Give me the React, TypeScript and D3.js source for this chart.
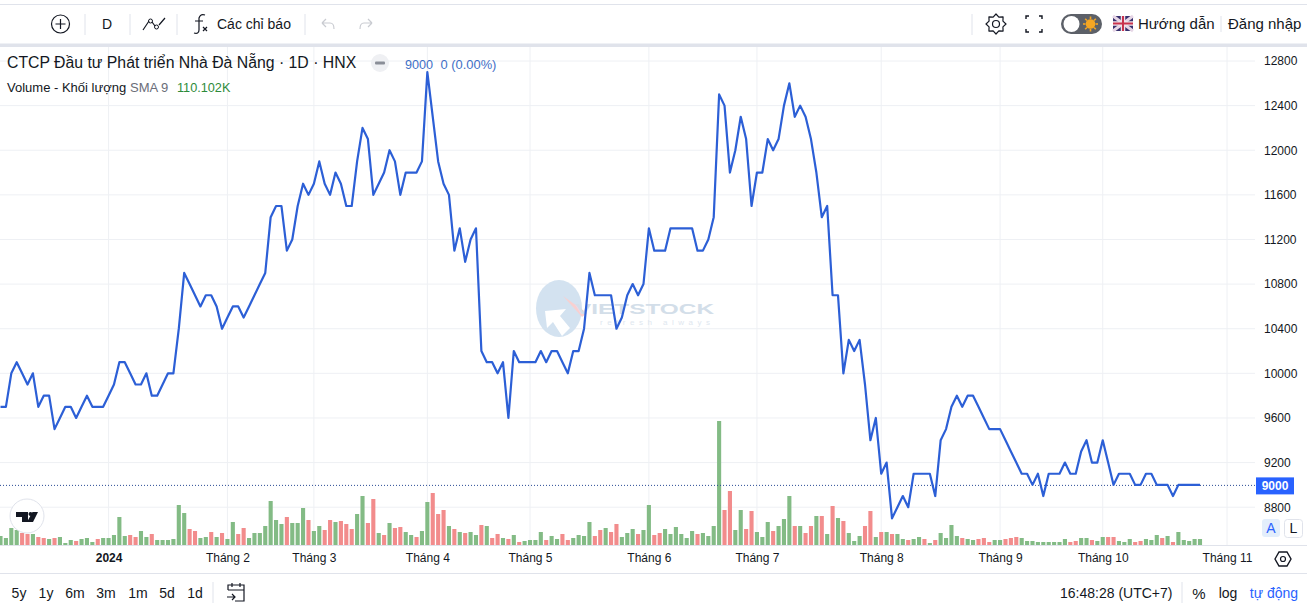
import { useEffect, useRef } from "react";
import * as d3 from "d3";

// closing price per session
const prices = [
  9700, 9700, 10000, 10100, 10000, 9900, 10000, 9700, 9800, 9800,
  9500, 9600, 9700, 9700, 9600, 9700, 9800, 9700, 9700, 9700,
  9800, 9900, 10100, 10100, 10000, 9900, 9900, 10000, 9800, 9800,
  9900, 10000, 10000, 10400, 10900, 10800, 10700, 10600, 10700, 10700,
  10600, 10400, 10500, 10600, 10600, 10500, 10600, 10700, 10800, 10900,
  11400, 11500, 11500, 11100, 11200, 11500, 11700, 11600, 11700, 11900,
  11700, 11600, 11800, 11700, 11500, 11500, 11900, 12200, 12100, 11600,
  11700, 11800, 12000, 11900, 11600, 11800, 11800, 11800, 11900, 12700,
  12300, 11900, 11700, 11600, 11100, 11300, 11000, 11200, 11300, 10200,
  10100, 10100, 10000, 10100, 9600, 10200, 10100, 10100, 10100, 10100,
  10200, 10100, 10200, 10200, 10100, 10000, 10200, 10200, 10400, 10900,
  10700, 10700, 10700, 10700, 10400, 10500, 10700, 10800, 10700, 10800,
  11300, 11100, 11100, 11100, 11300, 11300, 11300, 11300, 11300, 11100,
  11100, 11200, 11400, 12500, 12400, 11800, 12000, 12300, 12100, 11500,
  11800, 11800, 12100, 12000, 12100, 12400, 12600, 12300, 12400, 12300,
  12100, 11800, 11400, 11500, 10700, 10700, 10000, 10300, 10200, 10300,
  9900, 9400, 9600, 9100, 9200, 8700, 8800, 8900, 8800, 9100,
  9100, 9100, 9100, 8900, 9400, 9500, 9700, 9800, 9700, 9800,
  9800, 9700, 9600, 9500, 9500, 9500, 9400, 9300, 9200, 9100,
  9100, 9000, 9100, 8900, 9100, 9100, 9100, 9200, 9100, 9100,
  9300, 9400, 9200, 9200, 9400, 9200, 9000, 9100, 9100, 9100,
  9000, 9000, 9100, 9100, 9000, 9000, 9000, 8900, 9000, 9000,
  9000, 9000, 9000,
];

// volume in thousands of shares
const volumes = [
  135, 105, 255, 225, 180, 165, 165, 120, 105, 90,
  105, 120, 30, 75, 60, 90, 105, 45, 90, 105,
  105, 150, 420, 135, 150, 120, 210, 120, 165, 75,
  75, 75, 90, 600, 480, 240, 210, 105, 120, 195,
  120, 180, 90, 345, 165, 255, 105, 180, 180, 285,
  660, 375, 315, 420, 330, 330, 555, 375, 210, 285,
  225, 375, 345, 360, 315, 240, 465, 735, 330, 690,
  180, 150, 330, 255, 270, 195, 150, 120, 210, 645,
  780, 465, 525, 285, 240, 195, 180, 195, 150, 300,
  285, 105, 165, 105, 90, 150, 45, 60, 75, 75,
  195, 75, 135, 90, 165, 75, 105, 150, 135, 345,
  135, 225, 255, 195, 315, 120, 180, 240, 165, 225,
  600, 150, 180, 240, 165, 270, 165, 105, 210, 165,
  180, 135, 285, 1860, 525, 810, 225, 525, 240, 510,
  195, 120, 345, 210, 285, 390, 735, 285, 285, 180,
  285, 435, 435, 165, 585, 405, 360, 180, 60, 135,
  285, 510, 120, 195, 195, 165, 165, 90, 75, 90,
  120, 90, 30, 75, 180, 105, 300, 135, 105, 90,
  75, 90, 105, 45, 75, 75, 90, 105, 120, 105,
  60, 60, 45, 45, 45, 45, 45, 90, 45, 60,
  105, 105, 75, 60, 120, 120, 120, 60, 45, 90,
  45, 60, 90, 75, 150, 105, 135, 45, 195, 75,
  60, 90, 90,
];

// 1 = up session (green bar), 0 = down session (red bar)
const volumeUp = [
  1, 1, 1, 1, 0, 0, 1, 0, 0, 1,
  0, 1, 1, 1, 0, 1, 1, 1, 0, 1,
  1, 1, 1, 1, 0, 0, 1, 1, 0, 1,
  1, 1, 1, 1, 1, 0, 0, 1, 1, 0,
  1, 0, 1, 1, 0, 0, 1, 1, 1, 1,
  1, 1, 1, 0, 1, 1, 1, 0, 1, 1,
  0, 0, 1, 0, 0, 0, 1, 1, 0, 0,
  1, 0, 1, 0, 0, 1, 1, 0, 1, 1,
  0, 0, 0, 1, 0, 1, 0, 1, 1, 0,
  1, 0, 0, 1, 0, 1, 0, 1, 1, 1,
  1, 0, 1, 1, 0, 0, 1, 1, 1, 1,
  0, 0, 1, 0, 0, 1, 1, 1, 0, 1,
  1, 0, 0, 1, 1, 1, 1, 1, 1, 0,
  1, 1, 1, 1, 0, 0, 1, 1, 0, 0,
  1, 1, 1, 0, 1, 1, 1, 0, 1, 0,
  0, 1, 0, 1, 0, 1, 0, 1, 1, 1,
  0, 0, 1, 0, 1, 0, 1, 1, 0, 1,
  1, 0, 1, 0, 1, 1, 1, 1, 0, 1,
  1, 0, 0, 0, 1, 1, 0, 0, 0, 1,
  1, 1, 1, 1, 1, 1, 1, 1, 0, 0,
  1, 1, 0, 1, 1, 0, 0, 1, 1, 1,
  0, 0, 1, 1, 1, 0, 1, 0, 1, 1,
  1, 1, 1,
];

const gridPrices = [8800, 9200, 9600, 10000, 10400, 10800, 11200, 11600, 12000, 12400, 12800];
const monthIndexes = [20, 42, 58, 79, 98, 120, 140, 163, 185, 204, 227];
const monthLabels = ["2024", "Tháng 2", "Tháng 3", "Tháng 4", "Tháng 5", "Tháng 6", "Tháng 7", "Tháng 8", "Tháng 9", "Tháng 10", "Tháng 11"];
const rangeLabels = ["5y", "1y", "6m", "3m", "1m", "5d", "1d"];
const rangeCenters = [19, 46, 75, 106, 138, 167, 195];
const lastPrice = 9000;

const WIDTH = 1307;
const HEIGHT = 608;
const PANE_RIGHT = 1255;
const PANE_TOP = 47;
const PANE_BOTTOM = 545;
const FONT = "'Liberation Sans', Arial, sans-serif";
const INK = "#131722";
const GRID = "#eef0f4";
const BORDER = "#e0e3eb";
const BLUE = "#2962ff";

export default function App() {
  const svgRef = useRef<SVGSVGElement>(null);

  useEffect(() => {
    if (!svgRef.current) return;
    const svg = d3.select(svgRef.current);
    svg.selectAll("*").remove();
    svg.style("font-family", FONT);

    const x = d3.scaleLinear().domain([0, prices.length - 1]).range([0.5, 1200]);
    const y = d3.scaleLinear().domain([8800, 12800]).range([507.2, 61]);
    const yVol = d3.scaleLinear().domain([0, d3.max(volumes) as number]).range([PANE_BOTTOM, 421]);
    const barW = (x(1) - x(0)) * 0.76;

    const text = (px: number, py: number, s: string, size = 14, fill = INK, anchor = "start") =>
      svg.append("text").attr("x", px).attr("y", py).attr("font-size", size)
        .attr("fill", fill).attr("text-anchor", anchor).text(s);
    const sep = (px: number, y1: number, y2: number) =>
      svg.append("line").attr("x1", px).attr("x2", px).attr("y1", y1).attr("y2", y2)
        .attr("stroke", BORDER);
    const icon = (px: number, py: number, d: string, stroke = INK) =>
      svg.append("path").attr("transform", `translate(${px},${py})`).attr("d", d)
        .attr("fill", "none").attr("stroke", stroke).attr("stroke-width", 1.2);

    // Grid lines
    svg.append("g").selectAll("line").data(gridPrices).enter().append("line")
      .attr("x1", 0).attr("x2", PANE_RIGHT)
      .attr("y1", (d) => y(d)).attr("y2", (d) => y(d))
      .attr("stroke", GRID);
    svg.append("g").selectAll("line").data(monthIndexes).enter().append("line")
      .attr("x1", (d) => x(d)).attr("x2", (d) => x(d))
      .attr("y1", PANE_TOP).attr("y2", PANE_BOTTOM)
      .attr("stroke", GRID);

    // Watermark
    const mark = svg.append("g");
    mark.append("ellipse").attr("cx", 559).attr("cy", 308.5).attr("rx", 23).attr("ry", 28.5).attr("fill", "#d3e2f0");
    mark.append("path").attr("d", "M545 311 L566 309 L560 316 L570 328 L562 336 L553 322 L547 328 Z").attr("fill", "#fff");
    mark.append("path").attr("d", "M563 296 L587 313 L582 317 Z").attr("fill", "#f8d0d0");
    mark.append("text").attr("x", 575).attr("y", 313.5).attr("font-size", 15).attr("font-weight", 700)
      .attr("textLength", 139).attr("lengthAdjust", "spacingAndGlyphs")
      .attr("fill", "#d3dee9").text("VIETSTOCK");
    mark.append("text").attr("x", 600).attr("y", 324.5).attr("font-size", 8)
      .attr("textLength", 110).attr("lengthAdjust", "spacing")
      .attr("fill", "#e0e7ef").text("refresh always");

    // Volume bars
    svg.append("g").selectAll("rect").data(volumes).enter().append("rect")
      .attr("x", (_, i) => x(i) - barW / 2)
      .attr("y", (d) => yVol(d))
      .attr("width", barW)
      .attr("height", (d) => PANE_BOTTOM - yVol(d))
      .attr("fill", (_, i) => (volumeUp[i] ? "#83bb85" : "#f28c8c"));

    // Last price dotted line
    svg.append("line")
      .attr("x1", 0).attr("x2", PANE_RIGHT)
      .attr("y1", y(lastPrice) + 0.5).attr("y2", y(lastPrice) + 0.5)
      .attr("stroke", "#2a4a94").attr("stroke-dasharray", "1,2");

    // Price line
    const line = d3.line<number>().x((_, i) => x(i)).y((d) => y(d));
    svg.append("path").datum(prices)
      .attr("fill", "none").attr("stroke", "#2c5fd6").attr("stroke-width", 2.2)
      .attr("stroke-linejoin", "round")
      .attr("d", line);

    // Price axis
    svg.append("g")
      .attr("transform", `translate(${PANE_RIGHT},0)`)
      .call(d3.axisRight(y).tickValues(gridPrices).tickSize(0).tickPadding(9).tickFormat((d) => String(d)))
      .call((g) => g.select(".domain").remove())
      .call((g) => g.selectAll(".tick text").attr("fill", INK).attr("font-size", 12).attr("font-family", FONT));

    svg.append("rect").attr("x", 1256).attr("y", y(lastPrice) - 7.5).attr("width", 38).attr("height", 17).attr("fill", BLUE);
    text(1275, y(lastPrice) + 5.5, String(lastPrice), 12, "#fff", "middle").attr("font-weight", 700);

    // Time axis
    svg.append("line").attr("x1", 0).attr("x2", WIDTH).attr("y1", PANE_BOTTOM + 0.5).attr("y2", PANE_BOTTOM + 0.5).attr("stroke", BORDER);
    svg.append("g")
      .attr("transform", `translate(0,${PANE_BOTTOM + 3})`)
      .call(d3.axisBottom(x).tickValues(monthIndexes).tickSize(0).tickPadding(5)
        .tickFormat((_, i) => monthLabels[i]))
      .call((g) => g.select(".domain").remove())
      .call((g) => g.selectAll(".tick text").attr("fill", INK).attr("font-size", 12).attr("font-family", FONT)
        .attr("font-weight", (_, i) => (i === 0 ? 700 : 400)));

    // Top toolbar
    svg.append("line").attr("x1", 0).attr("x2", WIDTH).attr("y1", 4.5).attr("y2", 4.5).attr("stroke", BORDER);
    svg.append("rect").attr("x", 0).attr("y", 43.5).attr("width", WIDTH).attr("height", 3.5).attr("fill", BORDER);
    [85, 130, 177, 305, 972].forEach((p) => sep(p, 14, 35));
    svg.append("circle").attr("cx", 60.5).attr("cy", 24).attr("r", 9).attr("fill", "none").attr("stroke", INK).attr("stroke-width", 1.2);
    icon(60.5, 24, "M-5 0H5M0 -5V5");
    text(107, 29, "D", 14, INK, "middle");
    icon(154, 24, "M-11 6L-5 -3M-2 -2L1 2M5 1L11 -6");
    svg.append("circle").attr("cx", 150.5).attr("cy", 21).attr("r", 2).attr("fill", "none").attr("stroke", INK);
    svg.append("circle").attr("cx", 156.5).attr("cy", 27).attr("r", 2).attr("fill", "none").attr("stroke", INK);
    icon(200, 24, "M5 -9C2 -10 0 -9 -1 -6V6C-1 9 -3 10 -6 9M-5 -3H3");
    icon(205, 29, "M-2 -2L2 2M2 -2L-2 2");
    text(217, 29, "Các chỉ báo");
    icon(328, 24, "M-6 -1H2C5 -1 6 1 6 5M-6 -1L-2 -5M-6 -1L-2 3", "#c9cbd1");
    icon(366, 24, "M6 -1H-2C-5 -1 -6 1 -6 5M6 -1L2 -5M6 -1L2 3", "#c9cbd1");

    // Gear, fullscreen, theme switch, flag
    const gear = d3.range(16).map((i) => {
      const a = (i * Math.PI) / 8;
      const r = i % 2 ? 7.5 : 10;
      return [Math.sin(a) * r, -Math.cos(a) * r] as [number, number];
    });
    svg.append("path").attr("transform", "translate(996,24)").attr("d", d3.line().curve(d3.curveLinearClosed)(gear))
      .attr("fill", "none").attr("stroke", INK).attr("stroke-width", 1.2).attr("stroke-linejoin", "round");
    svg.append("circle").attr("cx", 996).attr("cy", 24).attr("r", 3.5).attr("fill", "none").attr("stroke", INK).attr("stroke-width", 1.2);
    icon(1034, 24, "M-8 -5V-8H-5M5 -8H8V-5M8 5V8H5M-5 8H-8V5", INK).attr("stroke-width", 1.4);
    svg.append("rect").attr("x", 1061).attr("y", 14).attr("width", 41).attr("height", 20).attr("rx", 10).attr("fill", "#5c6068");
    svg.append("circle").attr("cx", 1071.5).attr("cy", 24).attr("r", 8).attr("fill", "#fff");
    svg.append("circle").attr("cx", 1090.5).attr("cy", 24).attr("r", 4.8).attr("fill", "#f5a623");
    svg.append("g").selectAll("line").data(d3.range(8)).enter().append("line")
      .attr("x1", (d) => 1090.5 + Math.cos((d * Math.PI) / 4) * 5)
      .attr("y1", (d) => 24 + Math.sin((d * Math.PI) / 4) * 5)
      .attr("x2", (d) => 1090.5 + Math.cos((d * Math.PI) / 4) * 7.5)
      .attr("y2", (d) => 24 + Math.sin((d * Math.PI) / 4) * 7.5)
      .attr("stroke", "#f5a623").attr("stroke-width", 1.6);
    const flag = svg.append("g");
    flag.append("rect").attr("x", 1113).attr("y", 16).attr("width", 20).attr("height", 15).attr("rx", 1).attr("fill", "#38306e");
    flag.append("path").attr("d", "M1113 16L1133 31M1133 16L1113 31").attr("stroke", "#e6d6e6").attr("stroke-width", 3);
    flag.append("path").attr("d", "M1123 16V31M1113 23.5H1133").attr("stroke", "#f0e4ea").attr("stroke-width", 4.5);
    flag.append("path").attr("d", "M1123 16V31M1113 23.5H1133").attr("stroke", "#c8324e").attr("stroke-width", 2);
    text(1138, 29, "Hướng dẫn", 15);
    sep(1221, 16, 32);
    text(1228, 29, "Đăng nhập", 15);

    // Legend
    text(7, 68, "CTCP Đầu tư Phát triển Nhà Đà Nẵng · 1D · HNX", 15.8);
    svg.append("circle").attr("cx", 380).attr("cy", 63).attr("r", 9).attr("fill", "#eff0f3");
    svg.append("rect").attr("x", 375).attr("y", 61.5).attr("width", 10).attr("height", 3).attr("rx", 1).attr("fill", "#8a8e97");
    text(405, 69, "9000", 12.6, "#3f6fc6");
    text(440.5, 69, "0 (0.00%)", 12.9, "#3f6fc6");
    text(7, 92, "Volume - Khối lượng", 13);
    text(130, 92, "SMA 9", 13, "#6a6d78");
    text(177, 92, "110.102K", 12.7, "#2e8b3a");

    // TradingView badge
    svg.append("circle").attr("cx", 27).attr("cy", 516).attr("r", 17).attr("fill", "#fff").attr("stroke", BORDER);
    svg.append("path").attr("d", "M16 512H28V522H22V517H16ZM32.5 512H38L33 522H27Z").attr("fill", "#131722");
    svg.append("circle").attr("cx", 30.5).attr("cy", 514).attr("r", 2).attr("fill", "#131722");

    // Auto / log buttons
    svg.append("rect").attr("x", 1262).attr("y", 519).attr("width", 18).attr("height", 18).attr("rx", 3).attr("fill", "#e3eefb");
    text(1271, 533, "A", 14, BLUE, "middle");
    svg.append("rect").attr("x", 1284.5).attr("y", 519.5).attr("width", 18).attr("height", 18).attr("rx", 3).attr("fill", "#fff").attr("stroke", BORDER);
    text(1293.5, 533, "L", 14, INK, "middle");
    icon(1283, 559, "M-8 0L-4 -7H4L8 0L4 7H-4Z").attr("stroke-width", 1.4);
    svg.append("circle").attr("cx", 1283).attr("cy", 559).attr("r", 2.5).attr("fill", "none").attr("stroke", INK).attr("stroke-width", 1.2);

    // Bottom toolbar
    svg.append("line").attr("x1", 0).attr("x2", WIDTH).attr("y1", 573.5).attr("y2", 573.5).attr("stroke", BORDER);
    rangeLabels.forEach((d, i) => text(rangeCenters[i], 598, d, 14, INK, "middle"));
    sep(213, 582, 603);
    icon(236, 592, "M-8 -2V-7H8V9H-1M-8 -2H8M-4 -9V-5M4 -9V-5M-9 5H-1M-4 2L-1 5L-4 8");
    text(1060, 598, "16:48:28 (UTC+7)", 14);
    sep(1182, 582, 603);
    text(1199, 599, "%", 15, INK, "middle");
    text(1228, 598, "log", 14, INK, "middle");
    text(1274, 598, "tự động", 14, BLUE, "middle");
  }, []);

  return (
    <svg
      ref={svgRef}
      width={WIDTH}
      height={HEIGHT}
      style={{ position: "absolute", top: 0, left: 0, display: "block", background: "#fff" }}
    />
  );
}
